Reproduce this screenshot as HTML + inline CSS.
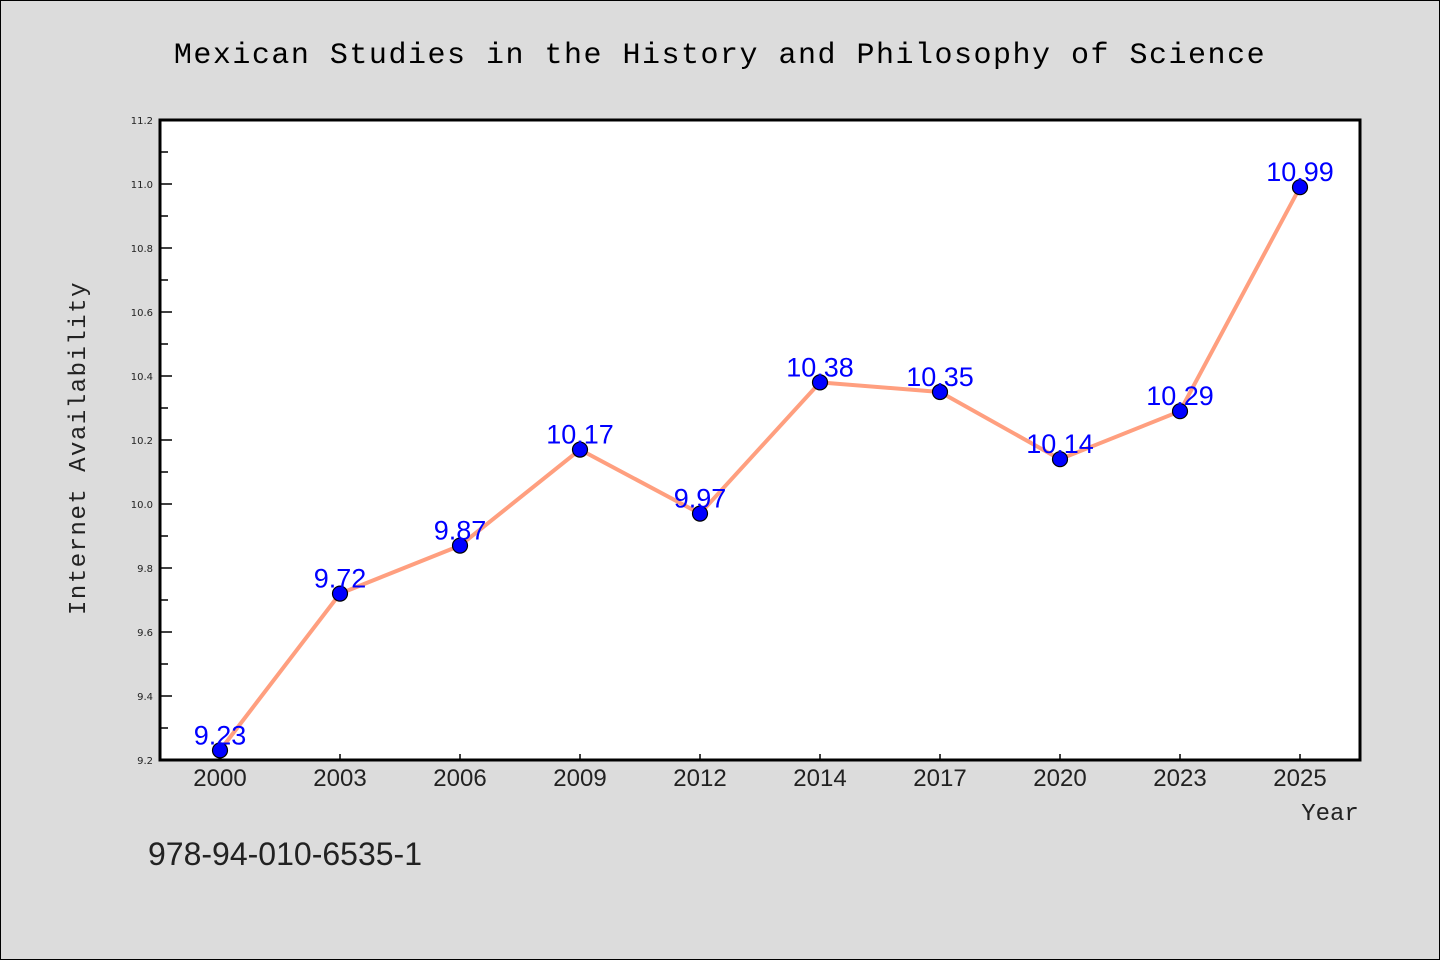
<!DOCTYPE html>
<html><head><meta charset="utf-8"><style>
body{margin:0;background:#dcdcdc;}
svg{display:block;}
</style></head><body>
<svg width="1440" height="960" xmlns="http://www.w3.org/2000/svg">
<rect x="0.5" y="0.5" width="1439" height="959" fill="#dcdcdc" stroke="#000"/>
<text x="720" y="63" text-anchor="middle" font-family="'WenQuanYi Zen Hei','Liberation Mono',monospace" font-size="30" letter-spacing="1.5" fill="#000">Mexican Studies in the History and Philosophy of Science</text>
<rect x="160" y="120" width="1200" height="640" fill="#fff"/>
<g id="axes"></g>
<g id="marks"></g>
<rect x="160" y="120" width="1200" height="640" fill="none" stroke="#000" stroke-width="3"/>
<text x="1330" y="820" text-anchor="middle" font-family="'WenQuanYi Zen Hei','Liberation Mono',monospace" font-size="24" fill="#222">Year</text>
<text transform="translate(85,448) rotate(-90)" text-anchor="middle" font-family="'WenQuanYi Zen Hei','Liberation Mono',monospace" font-size="24" letter-spacing="1.5" fill="#222">Internet Availability</text>
<text x="148" y="865" font-family="'WenQuanYi Zen Hei','Liberation Sans',sans-serif" font-size="32" fill="#222">978-94-010-6535-1</text>
</svg>
<script>
const categories=["2000","2003","2006","2009","2012","2014","2017","2020","2023","2025"];
const values=[9.23,9.72,9.87,10.17,9.97,10.38,10.35,10.14,10.29,10.99];
const yTicks=[9.2,9.4,9.6,9.8,10.0,10.2,10.4,10.6,10.8,11.0,11.2];
const yMin=9.2,yMax=11.2;
const L=160,T=120,W=1200,H=640;
const NS="http://www.w3.org/2000/svg";
function xs(i){return L+W/categories.length*(i+0.5);}
function ys(v){return T+H-(v-yMin)/(yMax-yMin)*H;}
function mk(tag,attrs,parent){const e=document.createElementNS(NS,tag);for(const k in attrs)e.setAttribute(k,attrs[k]);parent.appendChild(e);return e;}
const ax=document.getElementById('axes'),mg=document.getElementById('marks');
yTicks.forEach((t,i)=>{
 const y=ys(t);
 const tk=mk('line',{x1:L,x2:L+12,y1:y,y2:y,stroke:'#000','stroke-width':1.5},ax);
 
 
 if(i<yTicks.length-1){const ym=ys(t+0.1);
  const mt=mk('line',{x1:L,x2:L+8,y1:ym,y2:ym,stroke:'#000','stroke-width':1.5},ax);
  
  }
 const lb=mk('text',{x:L-7,y:y+4,'text-anchor':'end','font-family':'DejaVu Sans,sans-serif','font-size':10,fill:'#222'},ax);
 lb.textContent=t.toFixed(1);
 
 
});
categories.forEach((c,i)=>{
 const x=xs(i);
 const tk=mk('line',{x1:x,x2:x,y1:T+H,y2:T+H-6,stroke:'#000','stroke-width':1.5},ax);
 
 
 const lb=mk('text',{x:x,y:T+H+26,'text-anchor':'middle','font-family':"'WenQuanYi Zen Hei','Liberation Sans',sans-serif",'font-size':24,fill:'#222'},ax);
 lb.textContent=c;
 
 
});
const pts=values.map((v,i)=>xs(i)+','+ys(v)).join(' ');
const line=mk('polyline',{points:pts,fill:'none',stroke:'#ff9f7f','stroke-width':4,'stroke-linejoin':'round'},mg);


values.forEach((v,i)=>{
 const c=mk('circle',{cx:xs(i),cy:ys(v),r:7.5,fill:'#0000ff',stroke:'#000','stroke-width':1.2},mg);
 
 
});
values.forEach((v,i)=>{
 const t=mk('text',{x:xs(i),y:ys(v)-6,'text-anchor':'middle','font-family':"'WenQuanYi Zen Hei','Liberation Sans',sans-serif",'font-size':27,fill:'#0000ff'},mg);
 t.textContent=v.toFixed(2);
 
 
});
</script>
</body></html>
